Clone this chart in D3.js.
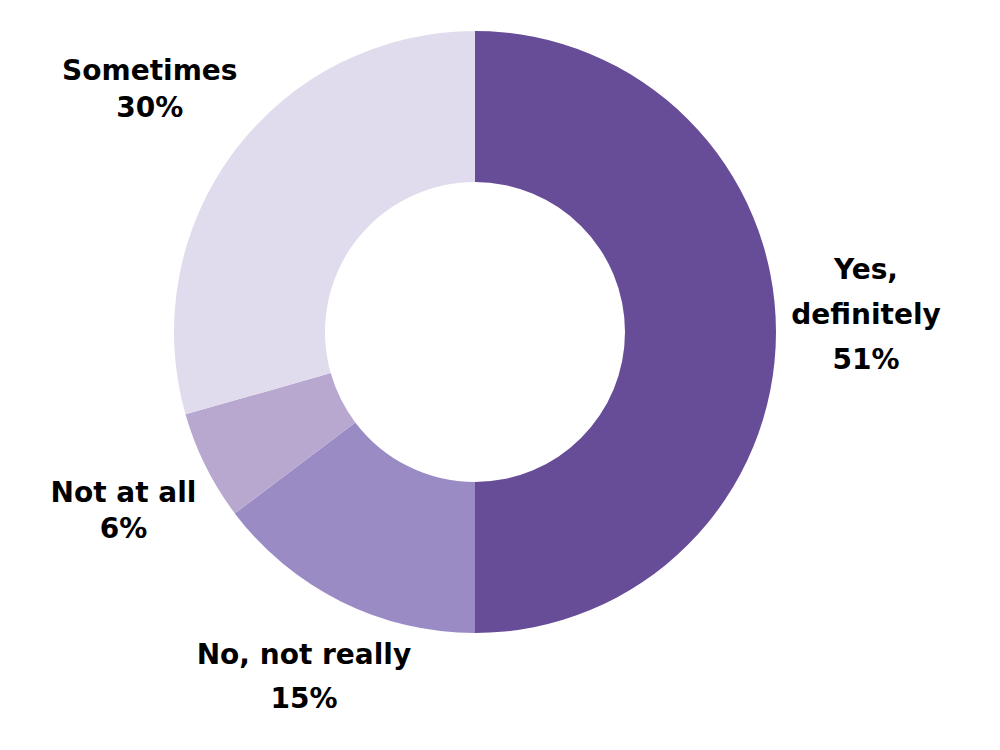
<!DOCTYPE html>
<html>
<head>
<meta charset="utf-8">
<script src="https://cdn.jsdelivr.net/npm/d3@7"></script>
<style>
  html, body { margin: 0; padding: 0; background: #fff; }
  svg text { font-family: "DejaVu Sans", sans-serif; font-weight: 700; fill: #000; }
</style>
</head>
<body>
<svg id="donut_svg" width="1000" height="750"></svg>
<script>
// data
const categories = ["Yes, definitely", "No, not really", "Not at all", "Sometimes"];
const values = [51, 15, 6, 30];
const labelLines = [["Yes,", "definitely", "51%"], ["No, not really", "15%"], ["Not at all", "6%"], ["Sometimes", "30%"]];
const colors = ["#674c98", "#9a8bc5", "#b8a8d0", "#e0dcee"];

// layout tweaks for labels (dx, dy of first baseline, line height)
const labelNudge = [
    { dx: -4, dy: -53, lh: 45 },
    { dx: 5, dy: -22, lh: 44 },
    { dx: 2, dy: -6, lh: 36 },
    { dx: -10, dy: -14, lh: 37 }
];

const width = 1000, height = 750;
const cx = 475, cy = 332;
const outerR = 301, innerR = 150, labelR = 395;

const svg = d3.select("#donut_svg");
const g = svg.append("g").attr("transform", `translate(${cx},${cy})`);

const data = categories.map((c, i) => ({ name: c, value: values[i], idx: i }));

const pie = d3.pie().value(d => d.value).sort(null);
const arc = d3.arc().innerRadius(innerR).outerRadius(outerR);
const labelArc = d3.arc().innerRadius(labelR).outerRadius(labelR);

const arcs = pie(data);

g.selectAll(".slice")
    .data(arcs)
    .join("path")
    .attr("class", "slice")
    .attr("d", arc)
    .attr("fill", d => colors[d.data.idx]);

// Beschriftungen
const labels = g.selectAll(".slice_label")
    .data(arcs)
    .join("text")
    .attr("class", "slice_label")
    .attr("text-anchor", "middle")
    .attr("font-size", "28px")
    .attr("transform", d => {
        const [x, y] = labelArc.centroid(d);
        const n = labelNudge[d.data.idx];
        return `translate(${x + n.dx},${y + n.dy})`;
    });

labels.selectAll("tspan")
    .data(d => labelLines[d.data.idx].map((t, j) => ({ t, j, lh: labelNudge[d.data.idx].lh })))
    .join("tspan")
    .attr("x", 0)
    .attr("y", d => d.j * d.lh)
    .text(d => d.t);
</script>
</body>
</html>
